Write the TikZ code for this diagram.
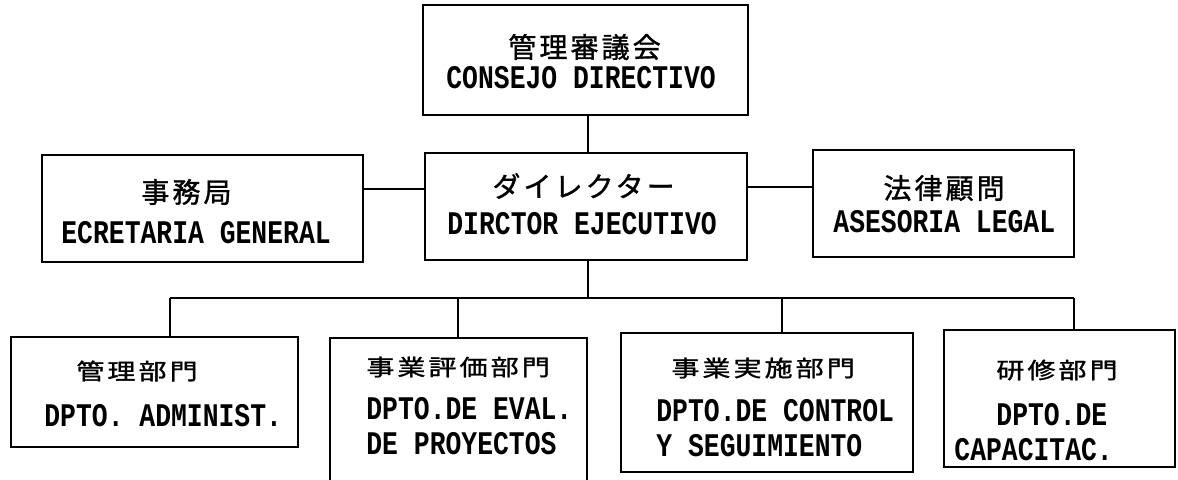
\documentclass[tikz,border=0pt]{standalone}
\usepackage{fontspec}
\usepackage{graphicx}
\newfontfamily\jpf{Noto Sans CJK JP}[LetterSpace=11,FakeBold=1.2]
\newfontfamily\laf{Liberation Mono}[FakeStretch=0.8]
\newcommand\jp[1]{{\jpf\fontsize{14pt}{18pt}\selectfont #1}}
\newcommand\jq[1]{\scalebox{1}[0.8]{\jpf\fontsize{14pt}{18pt}\selectfont #1}}
\newcommand\la[1]{{\laf\bfseries\fontsize{16.5pt}{18pt}\selectfont #1}}
\begin{document}
\begin{tikzpicture}[x=0.5pt,y=-0.5pt,
  orgbox/.style={draw=black,line width=0.8pt,rectangle,inner sep=0pt},
  txt/.style={anchor=west,inner sep=0pt},
  link/.style={draw=black,line width=0.8pt}]
\fill[white] (0,0) rectangle (1178,479);
\useasboundingbox (0,0) rectangle (1178,479);
% boxes
\node[orgbox,minimum width=162.5pt,minimum height=55pt] (top) at (585.5,60) {};
\node[orgbox,minimum width=161pt,minimum height=53.5pt] (ctr) at (586,206.5) {};
\node[orgbox,minimum width=160.5pt,minimum height=53.5pt] (left) at (202.5,208.5) {};
\node[orgbox,minimum width=130.5pt,minimum height=53.5pt] (right) at (943.5,203.5) {};
\node[orgbox,minimum width=143.5pt,minimum height=55pt] (b1) at (154.5,392) {};
\node[orgbox,minimum width=128.5pt,minimum height=76pt] (b2) at (458.5,414) {};
\node[orgbox,minimum width=146pt,minimum height=69.5pt] (b3) at (767,402.5) {};
\node[orgbox,minimum width=115.5pt,minimum height=68.5pt] (b4) at (1059.5,398.5) {};
% texts
\node[txt] (topj) at (508,47) {\jp{管理審議会}};
\node[txt] (topl) at (446,78) {\la{CONSEJO DIRECTIVO}};
\node[txt] (ctrj) at (492,186) {\jp{ダイレクター}};
\node[txt] (ctrl) at (447,224) {\la{DIRCTOR EJECUTIVO}};
\node[txt] (leftj) at (141,192) {\jp{事務局}};
\node[txt] (leftl) at (61,233) {\la{ECRETARIA GENERAL}};
\node[txt] (rightj) at (883,188) {\jp{法律顧問}};
\node[txt] (rightl) at (833,222) {\la{ASESORIA LEGAL}};
\node[txt] (b1j) at (76,371) {\jq{管理部門}};
\node[txt] (b1l) at (44,416) {\la{DPTO. ADMINIST.}};
\node[txt] (b2j) at (366,367) {\jq{事業評価部門}};
\node[txt] (b2l) at (366,409) {\la{DPTO.DE EVAL.}};
\node[txt] (b2m) at (366,444) {\la{DE PROYECTOS}};
\node[txt] (b3j) at (671,368) {\jq{事業実施部門}};
\node[txt] (b3l) at (656,411) {\la{DPTO.DE CONTROL}};
\node[txt] (b3m) at (656,446) {\la{Y SEGUIMIENTO}};
\node[txt] (b4j) at (996,370) {\jq{研修部門}};
\node[txt] (b4l) at (996,415) {\la{DPTO.DE}};
\node[txt] (b4m) at (954,450) {\la{CAPACITAC.}};
% junction coordinates
\coordinate (jl) at (394,189);
\coordinate (jr) at (780,187);
\coordinate (bus) at (588,298);
\coordinate (d1) at (170,298);
\coordinate (d2) at (458,298);
\coordinate (d3) at (782,298);
\coordinate (d4) at (1074,298);
% connectors
\draw[link] (top.south -| bus) -- (ctr.north -| bus);
\draw[link] (left.east |- jl) -- (ctr.west |- jl);
\draw[link] (ctr.east |- jr) -- (right.west |- jr);
\draw[link] (ctr.south -| bus) -- (bus);
\draw[link] (d1) -- (d4);
\draw[link] (d1) -- (d1 |- b1.north);
\draw[link] (d2) -- (d2 |- b2.north);
\draw[link] (d3) -- (d3 |- b3.north);
\draw[link] (d4) -- (d4 |- b4.north);
\end{tikzpicture}
\end{document}
